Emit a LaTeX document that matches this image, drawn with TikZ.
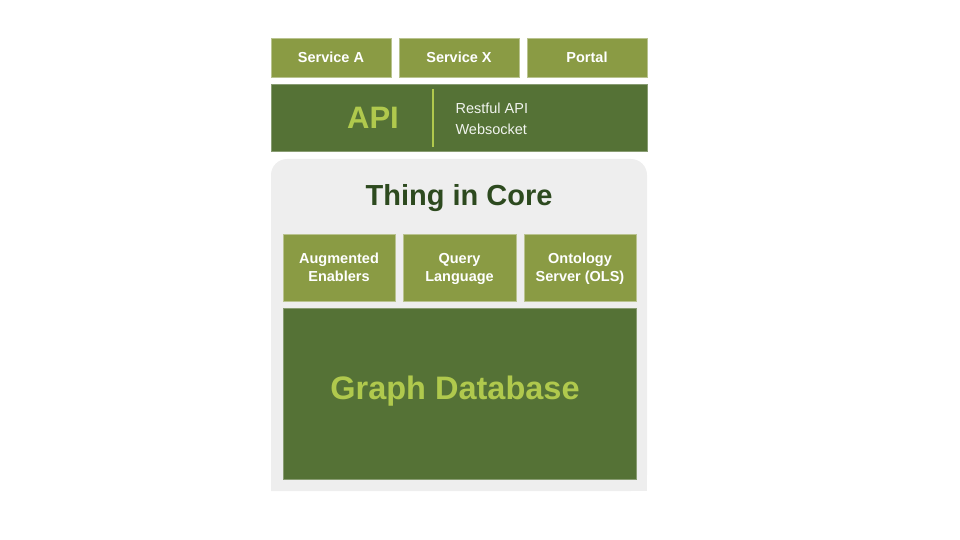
\documentclass[tikz,border=0pt]{standalone}
\usepackage{fontspec}
\setmainfont{Liberation Sans}
\definecolor{olive}{HTML}{8A9B44}
\definecolor{darkolive}{HTML}{557236}
\definecolor{lime}{HTML}{B0C94D}
\definecolor{corebg}{HTML}{EEEEEE}
\definecolor{titlegreen}{HTML}{2D4A1F}
\begin{document}
\begin{tikzpicture}[x=1pt,y=-1pt,
  box/.style={fill=olive,draw=olive!60!white,line width=0.5pt},
  darkbox/.style={fill=darkolive,draw=darkolive!70!white,line width=0.5pt},
  smalltxt/.style={text=white,font=\bfseries\fontsize{14.5}{18}\selectfont,align=center,yshift=-1.5pt},
  bigtxt/.style={text=lime,font=\bfseries\fontsize{31}{34}\selectfont}]
\useasboundingbox (0,0) rectangle (960,540);
% services
\draw[box] (271,38) rectangle (391,77) node[midway,smalltxt] (sa) {\strut Service A};
\draw[box] (399,38) rectangle (519,77) node[midway,smalltxt] (sx) {\strut Service X};
\draw[box] (527,38) rectangle (647,77) node[midway,smalltxt] (po) {\strut Portal};
% API
\draw[darkbox] (271,84) rectangle (647,151);
\node[bigtxt] (api) at (373,118) {API};
\coordinate (dtop) at (433,89);
\coordinate (dbot) at (433,147);
\draw[lime,line width=2pt] (dtop) -- (dbot);
\node[anchor=west,text=white!92!darkolive,font=\fontsize{14.5}{21}\selectfont,align=left] (rest) at (452,119) {Restful API\\Websocket};
% core
\fill[corebg,rounded corners=16pt] (271,491) -- (271,159) -- (647,159) -- (647,491) [sharp corners] -- cycle;
\fill[corebg] (271,470) rectangle (647,491);
\node[text=titlegreen,font=\bfseries\fontsize{29}{32}\selectfont] (core) at (459,198) {Thing in Core};
\draw[box] (283,234) rectangle (395,301) node[midway,smalltxt] (ae) {\strut Augmented\\\strut Enablers};
\draw[box] (403,234) rectangle (516,301) node[midway,smalltxt] (ql) {\strut Query\\\strut Language};
\draw[box] (524,234) rectangle (636,301) node[midway,smalltxt] (ols) {\strut Ontology\\\strut Server (OLS)};
\draw[darkbox] (283,308) rectangle (636,479);
\node[text=lime,font=\bfseries\fontsize{32.5}{36}\selectfont] (gdb) at (455,391) {Graph Database};
\end{tikzpicture}
\end{document}
